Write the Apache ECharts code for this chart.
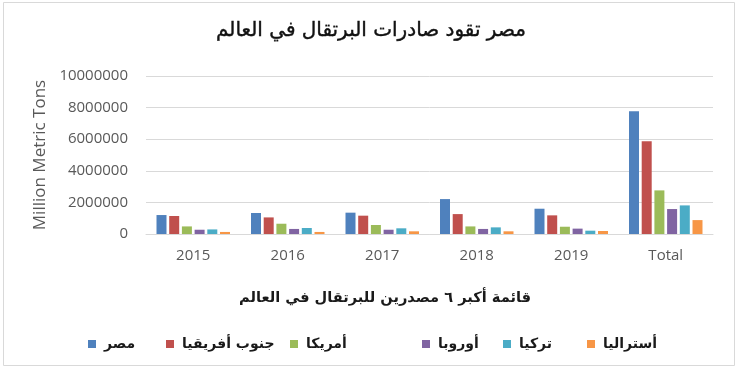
<!DOCTYPE html>
<html>
<head>
<meta charset="utf-8">
<script src="https://cdn.jsdelivr.net/npm/echarts@6/dist/echarts.min.js"></script>
<style>
html,body{margin:0;padding:0;background:#fff;}
#chart{width:740px;height:367px;}
</style>
</head>
<body>
<div id="chart"></div>
<script>
var categories = ['2015', '2016', '2017', '2018', '2019', 'Total'];
var seriesNames = ['مصر', 'جنوب أفريقيا', 'أمريكا', 'أوروبا', 'تركيا', 'أستراليا'];
var egypt       = [1200000, 1330000, 1350000, 2210000, 1600000, 7770000];
var southAfrica = [1140000, 1050000, 1160000, 1260000, 1180000, 5870000];
var usa         = [480000, 650000, 570000, 480000, 460000, 2760000];
var europe      = [270000, 320000, 270000, 320000, 340000, 1580000];
var turkey      = [290000, 380000, 360000, 420000, 210000, 1810000];
var australia   = [130000, 130000, 170000, 170000, 190000, 880000];
var yTicks = [0, 2000000, 4000000, 6000000, 8000000, 10000000];
var titleText = 'مصر تقود صادرات البرتقال في العالم';
var subtitleText = 'قائمة أكبر ٦ مصدرين للبرتقال في العالم';
var yAxisName = 'Million Metric Tons';

var colors = ['#4F81BD', '#C0504D', '#9BBB59', '#8064A2', '#4BACC6', '#F79646'];
var seriesData = [egypt, southAfrica, usa, europe, turkey, australia];
var legendLeft = [83, 161, 285, 417, 498, 582];

var chart = echarts.init(document.getElementById('chart'));
var option = {
  animation: false,
  backgroundColor: '#ffffff',
  color: colors,
  title: [
    {
      text: titleText, left: 366, top: 16, textAlign: 'center',
      textStyle: {fontFamily: 'DejaVu Sans', fontSize: 20, fontWeight: 'normal', color: '#111111',
        textBorderColor: '#111111', textBorderWidth: 0.4}
    },
    {
      text: subtitleText, left: 380, top: 286, textAlign: 'center',
      textStyle: {fontFamily: 'DejaVu Sans', fontSize: 14.6, fontWeight: 'bold', color: '#1a1a1a'}
    }
  ],
  legend: seriesNames.map(function (n, i) {
    return {
      data: [n], left: legendLeft[i], top: 332, itemWidth: 8, itemHeight: 8, itemGap: 10,
      icon: 'rect',
      textStyle: {fontFamily: 'DejaVu Sans', fontSize: 14, fontWeight: 'bold', color: '#1a1a1a', padding: [0, 0, 0, 3]}
    };
  }),
  grid: {left: 146, right: 27, top: 76, bottom: 133, containLabel: false},
  xAxis: {
    type: 'category', data: categories,
    axisLine: {show: true, lineStyle: {color: '#d9d9d9'}},
    axisTick: {show: false},
    axisLabel: {color: '#595959', fontFamily: 'Open Sans', fontSize: 15, margin: 14}
  },
  yAxis: {
    type: 'value', min: 0, max: 10000000, interval: 2000000,
    name: yAxisName, nameLocation: 'middle', nameGap: 97, nameRotate: 90,
    nameTextStyle: {color: '#595959', fontFamily: 'Open Sans', fontSize: 17},
    axisLine: {show: false}, axisTick: {show: false},
    splitLine: {lineStyle: {color: '#d9d9d9', width: 1}},
    axisLabel: {color: '#595959', fontFamily: 'Open Sans', fontSize: 15, margin: 18,
      formatter: function (v) { return yTicks.indexOf(v) >= 0 ? String(v) : ''; }}
  },
  graphic: [{
    type: 'rect', shape: {x: 3.5, y: 2.5, width: 731, height: 363},
    style: {fill: 'none', stroke: '#d9d9d9', lineWidth: 1}, silent: true, z: -1
  }],
  series: seriesNames.map(function (n, i) {
    return {name: n, type: 'bar', data: seriesData[i], barWidth: 10, barGap: '27%'};
  })
};
chart.setOption(option);
</script>
</body>
</html>
